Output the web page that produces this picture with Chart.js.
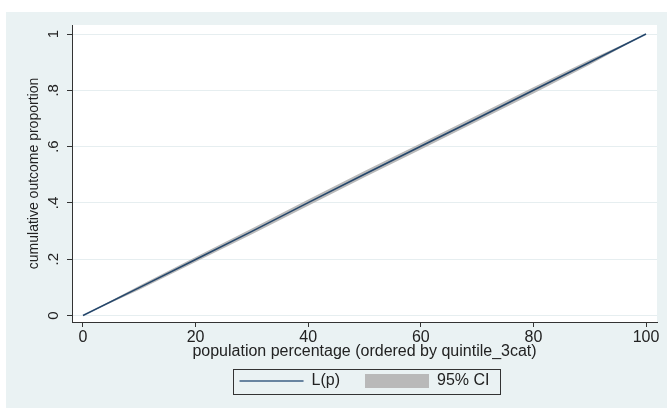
<!DOCTYPE html>
<html>
<head>
<meta charset="utf-8">
<script src="https://cdn.jsdelivr.net/npm/chart.js@4.4.0/dist/chart.umd.min.js"></script>
<style>
  html, body { margin: 0; padding: 0; background: #fff; }
  canvas { display: block; }
</style>
</head>
<body>
<canvas id="chart" width="667" height="408"></canvas>
<script>
const popPct = [0, 10, 20, 30, 40, 50, 60, 70, 80, 90, 100];
const lpValues = [0, 0.099, 0.199, 0.299, 0.401, 0.502, 0.601, 0.700, 0.800, 0.900, 1];
const ciLower = [0, 0.092, 0.190, 0.289, 0.390, 0.491, 0.590, 0.689, 0.789, 0.891, 1];
const ciUpper = [0, 0.106, 0.208, 0.309, 0.412, 0.513, 0.612, 0.711, 0.811, 0.909, 1];
const xTicks = [0, 20, 40, 60, 80, 100];
const yTicks = [0, 0.2, 0.4, 0.6, 0.8, 1];
const yTickLabels = ['0', '.2', '.4', '.6', '.8', '1'];

const navy = '#24466b';
const ciGray = '#b9b9b9';
const axisColor = '#333';
const textColor = '#222';

Chart.defaults.font.family = '"Liberation Sans", Arial, sans-serif';

const toPoints = ys => popPct.map((x, i) => ({ x, y: ys[i] }));

// stata-ish graph region + white plot region
const backdrop = {
    id: 'backdrop',
    beforeDraw(c) {
        const { ctx, chartArea: a } = c;
        ctx.save();
        ctx.fillStyle = '#fff';
        ctx.fillRect(0, 0, c.width, c.height);
        ctx.fillStyle = '#eaf2f3';
        ctx.fillRect(6, 12, c.width - 6, c.height - 12);
        ctx.fillStyle = '#fff';
        ctx.fillRect(a.left, a.top, a.right - a.left, a.bottom - a.top);
        ctx.restore();
    }
};

// box round the legend
const legendFrame = {
    id: 'legendFrame',
    afterDraw(c) {
        const boxes = c.legend.legendHitBoxes;
        if (!boxes || !boxes.length) return;
        const first = boxes[0], last = boxes[boxes.length - 1];
        const x0 = Math.round(first.left - 7) + 0.5;
        const x1 = Math.round(last.left + last.width + 11) + 0.5;
        const y0 = Math.round(first.top - 4) + 0.5;
        const y1 = Math.round(first.top + first.height + 5) + 0.5;
        const ctx = c.ctx;
        ctx.save();
        ctx.strokeStyle = axisColor;
        ctx.lineWidth = 1;
        ctx.strokeRect(x0, y0, x1 - x0, y1 - y0);
        ctx.restore();
    }
};

new Chart(document.getElementById('chart'), {
    type: 'line',
    data: {
        datasets: [
            { label: 'L(p)', data: toPoints(lpValues), borderColor: navy, borderWidth: 1.6, pointRadius: 0, fill: false },
            { label: '95% CI upper', data: toPoints(ciUpper), borderWidth: 0, borderColor: ciGray, backgroundColor: ciGray, pointRadius: 0, fill: '+1' },
            { label: '95% CI', data: toPoints(ciLower), borderWidth: 0, borderColor: ciGray, pointRadius: 0, fill: false }
        ]
    },
    options: {
        responsive: false,
        devicePixelRatio: 1,
        animation: false,
        layout: { padding: { left: 6, top: 25, right: 10, bottom: 9 } },
        scales: {
            x: {
                type: 'linear',
                min: -1.95,
                max: 101.95,
                afterBuildTicks: s => { s.ticks = xTicks.map(v => ({ value: v })); },
                afterFit: s => { s.height = 26; },
                grid: { drawOnChartArea: false, tickLength: 5, tickColor: axisColor },
                border: { color: axisColor },
                ticks: { padding: 1, color: textColor, font: { size: 16 }, maxRotation: 0, autoSkip: false },
                title: {
                    display: true,
                    text: 'population percentage (ordered by quintile_3cat)',
                    color: textColor,
                    font: { size: 16 },
                    padding: { top: 0, bottom: -13.5 }
                }
            },
            y: {
                min: -0.023,
                max: 1.032,
                afterBuildTicks: s => { s.ticks = yTicks.map(v => ({ value: v })); },
                afterFit: s => { s.width = 66; },
                grid: { color: '#e6eef0', tickLength: 5, tickColor: axisColor },
                border: { color: axisColor },
                ticks: {
                    minRotation: 90,
                    maxRotation: 90,
                    crossAlign: 'center',
                    padding: 7,
                    color: textColor,
                    font: { size: 15 },
                    autoSkip: false,
                    callback: (v, i) => yTickLabels[i]
                },
                title: {
                    display: true,
                    text: 'cumulative outcome proportion',
                    color: textColor,
                    font: { size: 14 },
                    padding: { top: 20, bottom: 0 }
                }
            }
        },
        plugins: {
            legend: {
                position: 'bottom',
                fullSize: false,
                labels: {
                    usePointStyle: true,
                    pointStyleWidth: 64,
                    boxHeight: 14,
                    padding: 25,
                    color: textColor,
                    font: { size: 16 },
                    generateLabels: () => [
                        { text: 'L(p)', pointStyle: 'line', strokeStyle: '#3d5f85', fillStyle: navy, lineWidth: 1.5, fontColor: textColor, datasetIndex: 0, hidden: false },
                        { text: '95% CI', pointStyle: 'rect', strokeStyle: ciGray, fillStyle: ciGray, lineWidth: 0, fontColor: textColor, datasetIndex: 1, hidden: false }
                    ]
                }
            },
            tooltip: { enabled: false }
        }
    },
    plugins: [backdrop, legendFrame]
});
</script>
</body>
</html>
